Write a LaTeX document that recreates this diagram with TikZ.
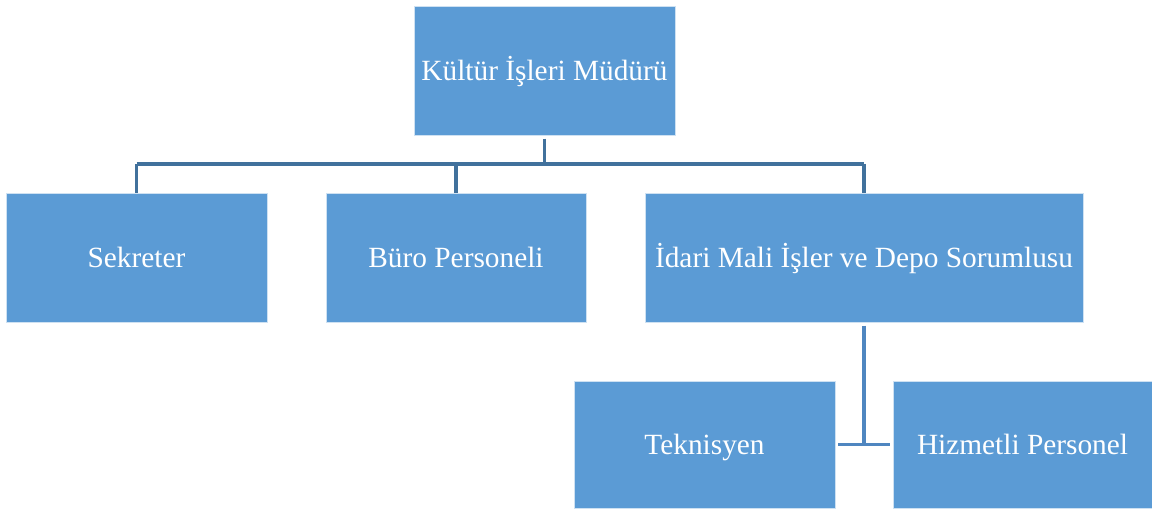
\documentclass[tikz,border=0pt]{standalone}
\usepackage{fontspec}
\setmainfont{Liberation Serif}
\definecolor{boxfill}{HTML}{5B9BD5}
\definecolor{linkdark}{HTML}{41719C}
\definecolor{linklight}{HTML}{4F86C0}
\tikzset{
  orgbox/.style={rectangle, fill=boxfill, draw=white!70!boxfill, line width=0.6pt, text=white, font=\fontsize{22pt}{24pt}\selectfont, inner sep=0pt, text height=14.6pt, text depth=0pt, minimum height=129*0.75pt},
  toplink/.style={draw=linkdark, line width=2.3pt},
  lowlink/.style={draw=linklight, line width=2.3pt}
}
\begin{document}
\begin{tikzpicture}[x=0.75pt,y=-0.75pt]
\useasboundingbox (0,0) rectangle (1152,509);
\node[orgbox, minimum width=261*0.75pt] (top) at (544.5,70.5) {Kültür İşleri Müdürü};
\node[orgbox, minimum width=261*0.75pt] (sek) at (136.5,257.5) {Sekreter};
\node[orgbox, minimum width=260*0.75pt] (buro) at (456,257.5) {Büro Personeli};
\node[orgbox, minimum width=438*0.75pt] (idari) at (864,257.5) {İdari Mali İşler ve Depo Sorumlusu};
\node[orgbox, minimum width=261*0.75pt, minimum height=127*0.75pt] (tek) at (704.5,444.5) {Teknisyen};
\node[orgbox, minimum width=259*0.75pt, minimum height=127*0.75pt] (hiz) at (1022.5,444.5) {Hizmetli Personel};
\coordinate (bus) at (0,164);
\draw[toplink] ([yshift=-2.5pt]top.south) -- (top.south |- bus);
\draw[toplink] (sek.north |- bus) -- (idari.north |- bus);
\draw[toplink] (sek.north |- bus) -- (sek.north);
\draw[toplink] (buro.north |- bus) -- (buro.north);
\draw[toplink] (idari.north |- bus) -- (idari.north);
\draw[lowlink] ([yshift=-2.5pt]idari.south) -- (idari.south |- tek.east);
\draw[lowlink] ([xshift=2pt]tek.east) -- ([xshift=-2pt]hiz.west);
\end{tikzpicture}
\end{document}
